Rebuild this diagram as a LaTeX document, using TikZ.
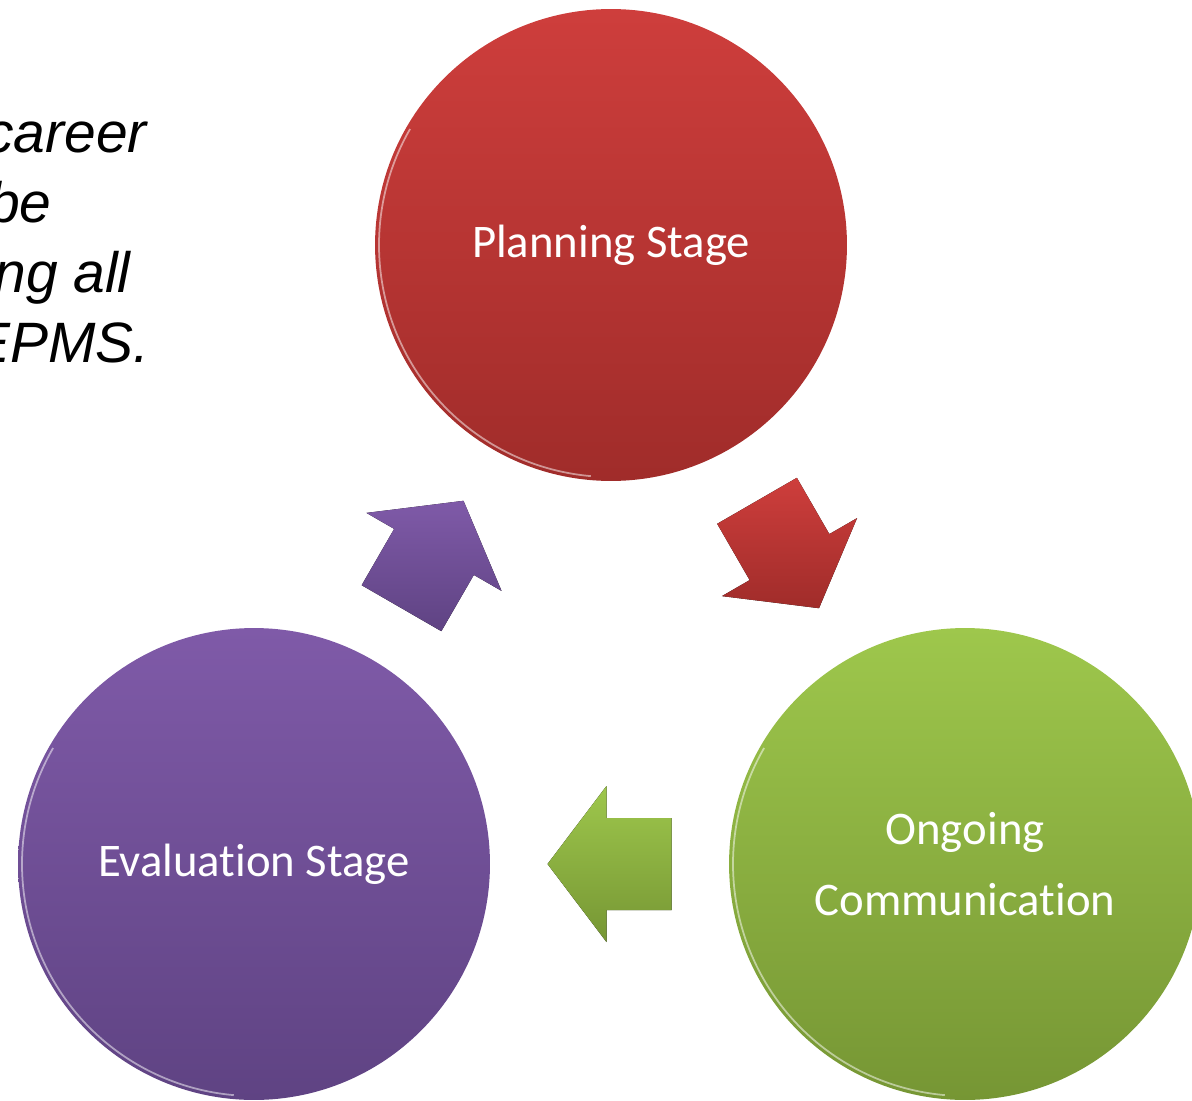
\documentclass[tikz,border=0pt]{standalone}
\usepackage{fontspec}
\setmainfont{Carlito}[Ligatures=NoCommon]
\newfontfamily\notefont{Liberation Sans}
\usetikzlibrary{calc}

\definecolor{planA}{RGB}{206,62,60}
\definecolor{planB}{RGB}{160,44,42}
\definecolor{talkA}{RGB}{158,199,76}
\definecolor{talkB}{RGB}{118,150,52}
\definecolor{evalA}{RGB}{127,90,168}
\definecolor{evalB}{RGB}{95,67,131}

\tikzset{
  stage/.style={circle, minimum size=9.44cm, inner sep=0pt, text=white, align=center,
    font=\fontsize{26.6}{40.8}\selectfont},
  rim/.style={white, opacity=0.5, line width=1pt},
  note/.style={anchor=base east, inner sep=0pt, font=\notefont\itshape\fontsize{32.4}{39.7}\selectfont}
}

\begin{document}
\begin{tikzpicture}[x=0.02cm, y=0.02cm]
    \useasboundingbox (0,0) rectangle (1192,1100);
    \clip (0,0) rectangle (1192,1100);

    % Text cut off on the left
    \node[note] (note1) at (147,947) {career};
    \node[note] (note2) at (52,877) {be};
    \node[note] (note3) at (131,807) {ng all};
    \node[note] (note4) at (150,737) {EPMS.};

    % Stages
    \node[stage, top color=planA, bottom color=planB] (plan) at (611,855) {Planning Stage};
    \node[stage, top color=talkA, bottom color=talkB] (talk) at (965,236) {Ongoing\\Communication};
    \node[stage, top color=evalA, bottom color=evalB] (eval) at (254,236) {Evaluation Stage};

    % Glossy rims
    \foreach \s in {plan, talk, eval} {
        \draw[rim] ($(\s)+(150:232)$) arc[start angle=150, end angle=265, radius=232];
    }

    % Block arrows between stages
    \foreach \from/\to/\ang/\ctop/\cbot in {eval/plan/60/evalA/evalB, plan/talk/-60/planA/planB, talk/eval/180/talkA/talkB} {
        \fill[top color=\ctop, bottom color=\cbot,
              shift={($(\from)!0.5!(\to)$)}, rotate=\ang]
            (-62,-46) -- (3,-46) -- (3,-78) -- (62,0) -- (3,78) -- (3,46) -- (-62,46) -- cycle;
    }
\end{tikzpicture}
\end{document}
